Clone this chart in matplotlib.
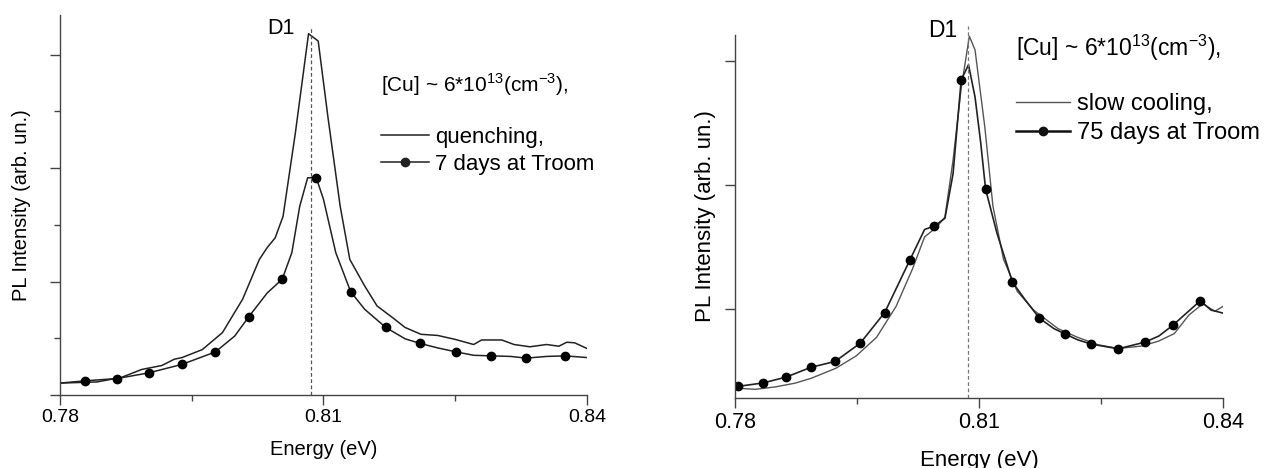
import matplotlib.pyplot as plt
from matplotlib.ticker import FixedLocator, NullFormatter
from matplotlib.lines import Line2D

plt.rcParams['font.family'] = ['Liberation Sans', 'DejaVu Sans']
plt.rcParams['mathtext.fontset'] = 'custom'
plt.rcParams['mathtext.rm'] = 'Liberation Sans'

# ---- left panel: quenching vs 7 days ----
q_x = [0.7800, 0.7842, 0.7870, 0.7893, 0.7916, 0.7930, 0.7939, 0.7962, 0.7985, 0.8008,
       0.8027, 0.8036, 0.8045, 0.8054, 0.8068, 0.8083, 0.8094, 0.8105, 0.8119, 0.8130,
       0.8147, 0.8161, 0.8179, 0.8193, 0.8211, 0.8230, 0.8250, 0.8271, 0.8280, 0.8303,
       0.8317, 0.8335, 0.8354, 0.8368, 0.8377, 0.8386, 0.8400]
q_y = [0.21, 0.23, 0.31, 0.45, 0.52, 0.63, 0.66, 0.80, 1.10, 1.69,
       2.39, 2.60, 2.77, 3.15, 4.62, 6.37, 6.24, 4.91, 3.33, 2.39,
       1.92, 1.57, 1.36, 1.19, 1.07, 1.05, 0.98, 0.89, 0.97, 0.97,
       0.89, 0.85, 0.89, 0.86, 0.93, 0.92, 0.82]

d7_x = [0.7800, 0.7829, 0.7865, 0.7901, 0.7939, 0.7977, 0.7999, 0.8015, 0.8036, 0.8053,
        0.8064, 0.8073, 0.8082, 0.8087, 0.8092, 0.8100, 0.8114, 0.8131, 0.8147, 0.8171,
        0.8193, 0.8210, 0.8230, 0.8251, 0.8271, 0.8291, 0.8313, 0.8331, 0.8354, 0.8375,
        0.8400]
d7_y = [0.21, 0.25, 0.29, 0.39, 0.54, 0.76, 1.04, 1.38, 1.80, 2.04,
        2.51, 3.33, 3.83, 3.83, 3.82, 3.45, 2.51, 1.82, 1.51, 1.19,
        0.99, 0.91, 0.83, 0.76, 0.70, 0.69, 0.68, 0.65, 0.68, 0.69,
        0.66]
d7_marks = [1, 2, 3, 4, 5, 7, 9, 14, 17, 19, 21, 23, 25, 27, 29]

# ---- right panel: slow cooling vs 75 days ----
sc_x = [0.7800, 0.7825, 0.7850, 0.7874, 0.7894, 0.7924, 0.7949, 0.7974, 0.7998, 0.8018,
        0.8033, 0.8048, 0.8058, 0.8068, 0.8078, 0.8088, 0.8095, 0.8107, 0.8117, 0.8130,
        0.8147, 0.8167, 0.8197, 0.8221, 0.8246, 0.8271, 0.8301, 0.8321, 0.8340, 0.8358,
        0.8375, 0.8390, 0.8400]
sc_y = [0.36, 0.35, 0.37, 0.40, 0.44, 0.52, 0.62, 0.77, 1.02, 1.32,
        1.58, 1.66, 1.74, 2.20, 2.78, 3.20, 3.09, 2.47, 1.83, 1.40,
        1.14, 0.99, 0.84, 0.77, 0.71, 0.68, 0.70, 0.74, 0.80, 0.95,
        1.04, 0.98, 1.02]

d75_x = [0.7800, 0.7804, 0.7834, 0.7863, 0.7893, 0.7923, 0.7954, 0.7984, 0.8015, 0.8033,
         0.8045, 0.8058, 0.8068, 0.8078, 0.8087, 0.8095, 0.8102, 0.8108, 0.8122, 0.8141,
         0.8157, 0.8174, 0.8192, 0.8206, 0.8221, 0.8238, 0.8271, 0.8304, 0.8321, 0.8338,
         0.8372, 0.8385, 0.8400]
d75_y = [0.36, 0.374, 0.401, 0.449, 0.527, 0.575, 0.723, 0.970, 1.395, 1.64,
         1.669, 1.73, 2.09, 2.847, 2.97, 2.71, 2.34, 1.965, 1.61, 1.215,
         1.07, 0.925, 0.84, 0.796, 0.75, 0.715, 0.677, 0.731, 0.78, 0.866,
         1.065, 0.99, 0.965]
d75_marks = [1, 2, 3, 4, 5, 6, 7, 8, 10, 13, 17, 19, 21, 23, 25, 26, 27, 29, 30]

d1_pos = 0.8086
x_ticks = [0.78, 0.81, 0.84]
x_labels = ['0.78', '0.81', '0.84']
cu_text = r'[Cu] ~ 6*10$^{\mathregular{13}}$(cm$^{\mathregular{-3}}$),'

fig = plt.figure(figsize=(12.68, 4.68), dpi=100)
ax_l = fig.add_axes([0.0473, 0.156, 0.4156, 0.812])
ax_r = fig.add_axes([0.5797, 0.1496, 0.3849, 0.7756])

axc = '#444444'
for ax, fs in ((ax_l, 14), (ax_r, 15.5)):
    for s in ('top', 'right'):
        ax.spines[s].set_visible(False)
    for s in ('left', 'bottom'):
        ax.spines[s].set_color(axc)
        ax.spines[s].set_linewidth(1.0)
    ax.set_xlim(0.78, 0.84)
    ax.set_xticks(x_ticks)
    ax.set_xticklabels(x_labels)
    ax.xaxis.set_minor_locator(FixedLocator([0.795, 0.825]))
    ax.tick_params(which='major', length=7, width=1, color=axc, labelsize=fs, pad=3)
    ax.tick_params(which='minor', length=4, width=1, color=axc)
    ax.yaxis.set_major_formatter(NullFormatter())
    ax.set_xlabel('Energy (eV)', fontsize=fs + 0.5)
    ax.set_ylabel('PL Intensity (arb. un.)', fontsize=fs + 0.5)

# left
ax_l.plot(q_x, q_y, color='#222222', lw=1.1)
ax_l.plot(d7_x, d7_y, color='#222222', lw=1.1, marker='o', ms=6,
          markevery=d7_marks, mfc='black', mec='black')
ax_l.set_ylim(0, 6.7)
ax_l.set_yticks([0, 2, 4, 6])
ax_l.yaxis.set_minor_locator(FixedLocator([1, 3, 5]))
ax_l.axvline(d1_pos, ymin=0, ymax=0.969, color='#555555', ls=(0, (3, 2)), lw=0.9)
ax_l.text(d1_pos - 0.0019, 6.47, 'D1', fontsize=15.5, ha='right', va='center')
ax_l.xaxis.labelpad = 10
ax_l.yaxis.labelpad = 11

fig.text(381 / 1268, 1 - 85 / 468, cu_text, fontsize=15, ha='left', va='center')
h_l = [Line2D([], [], color='#222222', lw=1.1),
       Line2D([], [], color='#222222', lw=1.1, marker='o', ms=6)]
ax_l.legend(h_l, ['quenching,', '7 days at Troom'], loc='upper left',
            bbox_to_anchor=(381 / 1268, 1 - 127 / 468), bbox_transform=fig.transFigure,
            frameon=False, fontsize=16, borderpad=0, borderaxespad=0,
            handlelength=2.16, handletextpad=0.27, labelspacing=0.25)

# right
ax_r.plot(sc_x, sc_y, color='#555555', lw=1.0)
ax_r.plot(d75_x, d75_y, color='#222222', lw=1.2, marker='o', ms=6,
          markevery=d75_marks, mfc='black', mec='black')
ax_r.set_ylim(0.28, 3.21)
ax_r.set_yticks([1, 2, 3])
ax_r.axvline(d1_pos, ymin=0, ymax=1.026, color='#777777', ls=(0, (3, 2)), lw=0.9,
             clip_on=False)
ax_r.text(d1_pos - 0.0013, 3.245, 'D1', fontsize=16.5, ha='right', va='center')
ax_r.xaxis.labelpad = 12
ax_r.yaxis.labelpad = 4

fig.text(1016 / 1268, 1 - 48 / 468, cu_text, fontsize=16.5, ha='left', va='center')
h_r = [Line2D([], [], color='#555555', lw=1.0),
       Line2D([], [], color='#111111', lw=1.8, marker='o', ms=6)]
ax_r.legend(h_r, ['slow cooling,', '75 days at Troom'], loc='upper left',
            bbox_to_anchor=(1016 / 1268, 1 - 93 / 468), bbox_transform=fig.transFigure,
            frameon=False, fontsize=17, borderpad=0, borderaxespad=0,
            handlelength=2.3, handletextpad=0.3, labelspacing=0.3)

fig.savefig('out.png', dpi=100)
